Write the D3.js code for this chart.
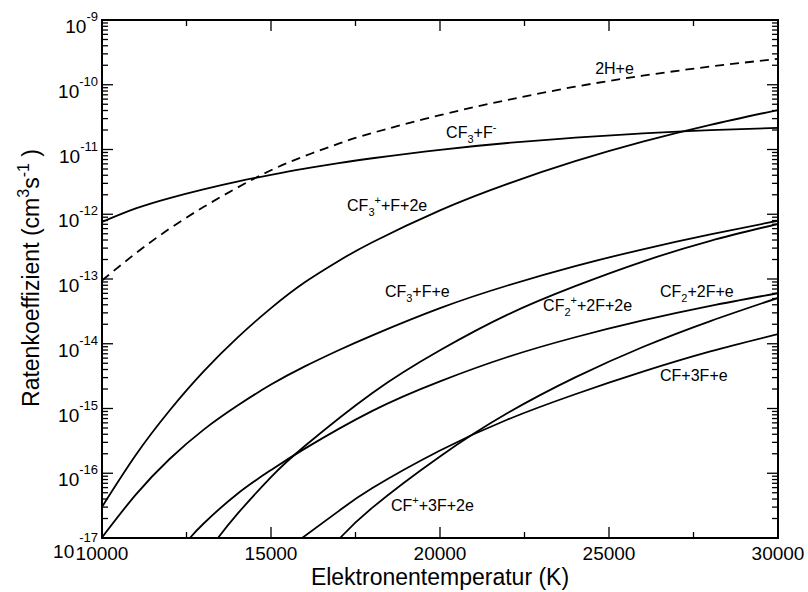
<!DOCTYPE html>
<html>
<head>
<meta charset="utf-8">
<script src="https://cdn.jsdelivr.net/npm/d3@7"></script>
<style>
body { margin: 0; background: #fff; }
svg text { font-family: "Liberation Sans", Arial, Helvetica, sans-serif; fill: #000; }
</style>
</head>
<body>
<div id="chart"></div>
<script>
// electron temperature (K) and rate coefficient (cm^3 s^-1)
var tH2 = [10000, 11000, 12000, 13000, 14000, 15000, 16000, 17000, 18000, 20000, 22000, 24000, 26000, 28000, 30000];
var kH2 = [9.5e-14, 2.5e-13, 6.0e-13, 1.29e-12, 2.57e-12, 4.79e-12, 7.94e-12, 1.23e-11, 1.8e-11, 3.39e-11, 5.82e-11, 9.33e-11, 1.38e-10, 1.91e-10, 2.51e-10];

var tBase = [10000, 11000, 12000, 13000, 14000, 15000, 16000, 17000, 18000, 20000, 22000, 24000, 26000, 28000, 30000];
var kCF3Fneg = [7.6e-13, 1.23e-12, 1.78e-12, 2.43e-12, 3.2e-12, 4.07e-12, 5.07e-12, 6.17e-12, 7.33e-12, 9.9e-12, 1.26e-11, 1.52e-11, 1.77e-11, 1.99e-11, 2.16e-11];
var kCF3ion = [3.02e-17, 1.91e-16, 9.3e-16, 3.7e-15, 1.23e-14, 3.55e-14, 8.9e-14, 1.9e-13, 3.7e-13, 1.15e-12, 2.95e-12, 6.6e-12, 1.32e-11, 2.4e-11, 4.07e-11];
var kCF3 = [1.02e-17, 4.68e-17, 1.66e-16, 4.68e-16, 1.1e-15, 2.34e-15, 4.47e-15, 7.94e-15, 1.35e-14, 3.55e-14, 7.94e-14, 1.58e-13, 2.88e-13, 4.9e-13, 7.94e-13];

var tCF2ion = [13430, 14000, 15000, 16000, 18000, 20000, 22000, 24000, 26000, 28000, 30000];
var kCF2ion = [1.0e-17, 2.34e-17, 8.7e-17, 2.63e-16, 1.74e-15, 7.94e-15, 2.82e-14, 7.76e-14, 1.86e-13, 3.89e-13, 7.08e-13];

var tCF2 = [12600, 13000, 14000, 15000, 16000, 18000, 20000, 22000, 24000, 26000, 28000, 30000];
var kCF2 = [1.0e-17, 1.66e-17, 4.79e-17, 1.12e-16, 2.4e-16, 9.2e-16, 2.63e-15, 6.24e-15, 1.26e-14, 2.29e-14, 3.85e-14, 6.03e-14];

var tCF = [15920, 17000, 18000, 20000, 22000, 24000, 26000, 28000, 30000];
var kCF = [1.0e-17, 2.6e-17, 5.9e-17, 2.24e-16, 6.76e-16, 1.66e-15, 3.7e-15, 7.6e-15, 1.41e-14];

var tCFion = [17040, 18000, 20000, 22000, 24000, 26000, 28000, 30000];
var kCFion = [1.0e-17, 2.95e-17, 1.82e-16, 8.5e-16, 3.02e-15, 8.9e-15, 2.24e-14, 5.1e-14];

// curve labels: "_x" subscript, "^x" superscript; anchored at (T, k) of the text baseline start
var labelText = ["2H+e", "CF_3+F^-", "CF_3^++F+2e", "CF_3+F+e", "CF_2^++2F+2e", "CF_2+2F+e", "CF+3F+e", "CF^++3F+2e"];
var labelT = [24590, 20180, 17250, 18370, 23050, 26510, 26510, 18550];
var labelK = [1.47e-10, 1.51e-11, 1.12e-12, 5.27e-14, 3.2e-14, 5.27e-14, 2.66e-15, 2.61e-17];

var xTicks = [10000, 15000, 20000, 25000, 30000];
var xMinorTicks = [12500, 17500, 22500, 27500];
var yExponents = [-9, -10, -11, -12, -13, -14, -15, -16, -17];

var W = 808, H = 592;
var margin = {top: 20, right: 30, bottom: 54, left: 102};
var w = W - margin.left - margin.right;
var h = H - margin.top - margin.bottom;

var x = d3.scaleLinear().domain([10000, 30000]).range([0, w]);
var y = d3.scaleLog().domain([1e-17, 1e-9]).range([h, 0]);

var svg = d3.select("#chart").append("svg")
	.attr("width", W)
	.attr("height", H);

svg.append("defs").append("clipPath")
	.attr("id", "plotclip")
	.append("rect")
	.attr("width", w)
	.attr("height", h);

var chart = svg.append("g")
	.attr("transform", "translate(" + margin.left + "," + margin.top + ")");

function makeSeries(ts, ks, dashed) {
	return {pts: ts.map(function(t, i) { return [t, ks[i]]; }), dashed: dashed};
}

var series = [
	makeSeries(tH2, kH2, true),
	makeSeries(tBase, kCF3Fneg, false),
	makeSeries(tBase, kCF3ion, false),
	makeSeries(tBase, kCF3, false),
	makeSeries(tCF2ion, kCF2ion, false),
	makeSeries(tCF2, kCF2, false),
	makeSeries(tCF, kCF, false),
	makeSeries(tCFion, kCFion, false)
];

var line = d3.line()
	.x(function(d) { return x(d[0]); })
	.y(function(d) { return y(d[1]); })
	.curve(d3.curveNatural);

chart.append("g")
	.attr("clip-path", "url(#plotclip)")
	.selectAll("path")
	.data(series).enter()
	.append("path")
	.attr("d", function(d) { return line(d.pts); })
	.attr("fill", "none")
	.attr("stroke", "#000")
	.attr("stroke-width", 1.8)
	.attr("stroke-dasharray", function(d) { return d.dashed ? "9,6" : null; });

// ticks, drawn inward on all four sides
var majorLen = 11, minorLen = 6;
var yMinor = [];
yExponents.forEach(function(e) {
	if (e == -9) return;
	for (var m = 2; m <= 9; m++) yMinor.push(m * Math.pow(10, e));
});
var yMajor = yExponents.map(function(e) { return Math.pow(10, e); });

var ticks = chart.append("g").attr("stroke", "#000").attr("stroke-width", 1.3);

function yTickLines(vals, len) {
	ticks.selectAll(null).data(vals).enter().append("line")
		.attr("x1", 0).attr("x2", len)
		.attr("y1", function(d) { return y(d); }).attr("y2", function(d) { return y(d); });
	ticks.selectAll(null).data(vals).enter().append("line")
		.attr("x1", w).attr("x2", w - len)
		.attr("y1", function(d) { return y(d); }).attr("y2", function(d) { return y(d); });
}
function xTickLines(vals, len) {
	ticks.selectAll(null).data(vals).enter().append("line")
		.attr("y1", h).attr("y2", h - len)
		.attr("x1", function(d) { return x(d); }).attr("x2", function(d) { return x(d); });
	ticks.selectAll(null).data(vals).enter().append("line")
		.attr("y1", 0).attr("y2", len)
		.attr("x1", function(d) { return x(d); }).attr("x2", function(d) { return x(d); });
}
yTickLines(yMajor, majorLen);
yTickLines(yMinor, minorLen);
xTickLines(xTicks, majorLen);
xTickLines(xMinorTicks, minorLen);

// frame
chart.append("rect")
	.attr("width", w)
	.attr("height", h)
	.attr("fill", "none")
	.attr("stroke", "#000")
	.attr("stroke-width", 2);

// y tick labels 10^e (the bottom one sits lower, next to the 10000 label)
yExponents.forEach(function(e) {
	var last = (e == -17);
	var t = chart.append("text")
		.attr("x", -4)
		.attr("y", y(Math.pow(10, e)) + 13 + (last ? 7 : 0))
		.attr("text-anchor", "end")
		.style("font-size", "19px");
	t.append("tspan").text("10");
	t.append("tspan")
		.attr("dx", last ? 5 : 0)
		.attr("dy", last ? -16 : -12)
		.style("font-size", "13px")
		.text(String(e));
});

// x tick labels
chart.selectAll(".xlab")
	.data(xTicks).enter()
	.append("text")
	.attr("class", "xlab")
	.attr("x", function(d) { return x(d); })
	.attr("y", h + 22)
	.attr("text-anchor", "middle")
	.style("font-size", "19px")
	.text(function(d) { return d; });

// axis titles
svg.append("text")
	.attr("x", margin.left + w / 2)
	.attr("y", 585)
	.attr("text-anchor", "middle")
	.style("font-size", "23px")
	.text("Elektronentemperatur (K)");

var yt = svg.append("text")
	.attr("transform", "translate(39,278) rotate(-90)")
	.attr("text-anchor", "middle")
	.style("font-size", "23px");
yt.append("tspan").text("Ratenkoeffizient (cm");
yt.append("tspan").attr("dy", -10).style("font-size", "16px").text("3");
yt.append("tspan").attr("dy", 10).text("s");
yt.append("tspan").attr("dy", -10).style("font-size", "16px").text("-1");
yt.append("tspan").attr("dy", 10).text(" )");

// curve labels with sub/superscripts
labelText.forEach(function(str, i) {
	var t = chart.append("text")
		.attr("x", x(labelT[i]))
		.attr("y", y(labelK[i]))
		.style("font-size", "16px");
	var shift = 0, buf = "";
	function flush() {
		if (buf) { t.append("tspan").attr("dy", -shift).text(buf); shift = 0; buf = ""; }
	}
	for (var c = 0; c < str.length; c++) {
		var ch = str[c];
		if (ch == "_" || ch == "^") {
			flush();
			var d = ch == "_" ? 5 : -7;
			t.append("tspan").attr("dy", d - shift).style("font-size", "11px").text(str[c + 1]);
			shift = d;
			c++;
		} else {
			buf += ch;
		}
	}
	flush();
});
</script>
</body>
</html>
